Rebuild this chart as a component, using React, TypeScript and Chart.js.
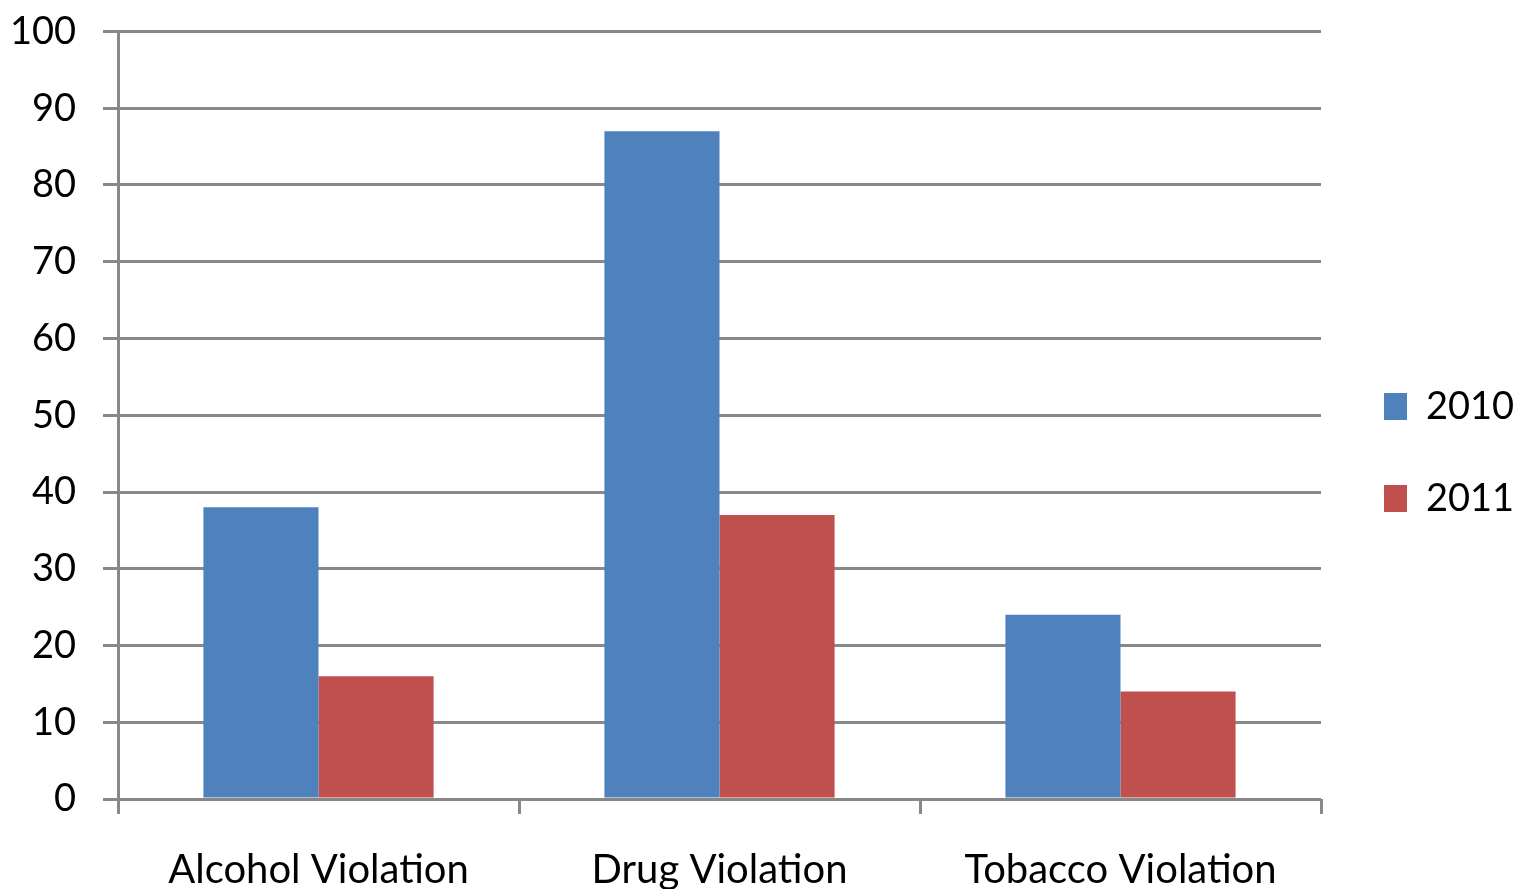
import React, { useEffect, useRef } from "react";
import { Chart, registerables } from "chart.js";

Chart.register(...registerables);

const categories = ["Alcohol Violation", "Drug Violation", "Tobacco Violation"];
const series2010 = [38, 87, 24];
const series2011 = [16, 37, 14];
const seriesLabels = ["2010", "2011"];
const yTicks = { min: 0, max: 100, step: 10 };

const FONT = "Lato, 'Liberation Sans', sans-serif";

export default function App() {
  const ref = useRef<HTMLCanvasElement | null>(null);
  useEffect(() => {
    if (!ref.current) return;
    const chart = new Chart(ref.current, {
      type: "bar",
      data: {
        labels: categories,
        datasets: [
          {
            label: seriesLabels[0],
            data: series2010,
            backgroundColor: "#4F81BD",
            borderWidth: 0,
            yAxisID: "y",
          },
          {
            label: seriesLabels[1],
            data: series2011,
            backgroundColor: "#C0504D",
            borderWidth: 0,
            yAxisID: "y",
          },
        ],
      },
      options: {
        animation: false,
        responsive: true,
        maintainAspectRatio: false,
        layout: { padding: { left: 0, top: 16, right: 0, bottom: 0 } },
        datasets: { bar: { categoryPercentage: 0.574, barPercentage: 1 } },
        plugins: {
          legend: {
            position: "right",
            maxWidth: 186,
            labels: {
              boxWidth: 23,
              boxHeight: 27,
              padding: 54,
              color: "#000",
              font: { family: FONT, size: 38 },
            },
          },
          tooltip: { enabled: false },
        },
        scales: {
          x: {
            offset: true,
            afterFit: (s: any) => {
              s.height = 90;
            },
            grid: {
              offset: true,
              display: true,
              drawOnChartArea: false,
              drawTicks: true,
              tickLength: 15,
              color: "#888888",
              lineWidth: 3,
            },
            border: { display: false },
            ticks: {
              color: "#000",
              padding: 32,
              font: { family: FONT, size: 40 },
              maxRotation: 0,
            },
          },
          y: {
            min: yTicks.min,
            max: yTicks.max,
            afterFit: (s: any) => {
              s.width = 118;
              s.paddingTop = 31.5;
            },
            grid: {
              color: "#888888",
              lineWidth: 3,
              tickLength: 15,
            },
            border: { display: true, color: "#888888", width: 3 },
            ticks: {
              stepSize: yTicks.step,
              color: "#000",
              padding: 27,
              font: { family: FONT, size: 38 },
            },
          },
          gap: {
            type: "linear",
            position: "right",
            display: true,
            afterFit: (s: any) => {
              s.width = 9;
              s.paddingTop = 0;
              s.paddingBottom = 0;
            },
            grid: { display: false, drawTicks: false },
            border: { display: false },
            ticks: { display: false },
          },
        },
      },
    });
    return () => chart.destroy();
  }, []);
  return (
    <div style={{ position: "fixed", left: 0, top: 0, width: 1516, height: 889, background: "#fff" }}>
      <canvas ref={ref} />
    </div>
  );
}
